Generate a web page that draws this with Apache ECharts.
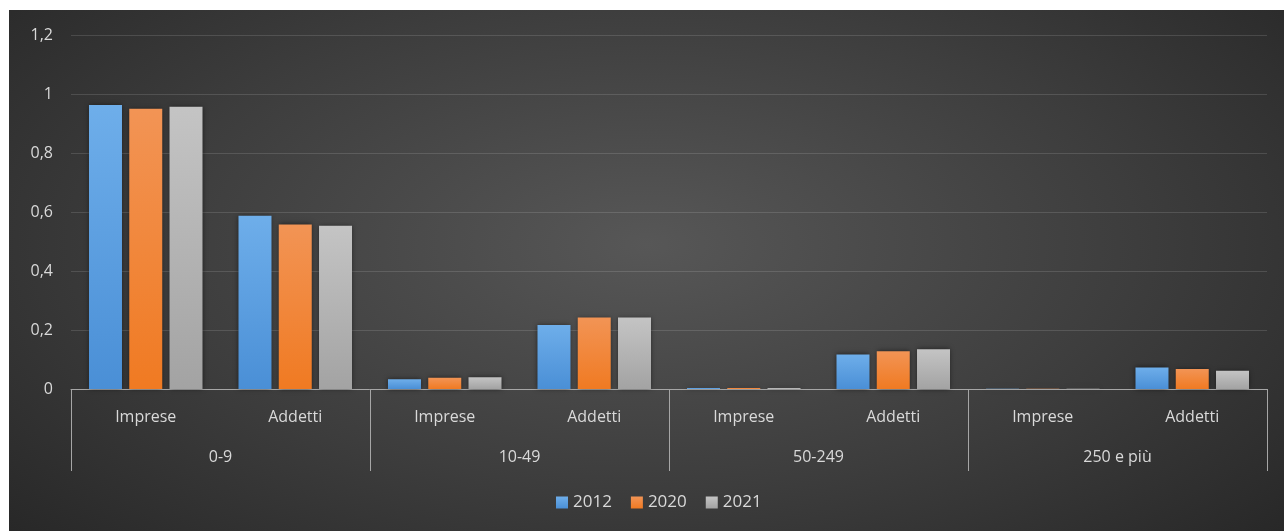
<!DOCTYPE html>
<html>
<head>
<meta charset="utf-8">
<script src="https://cdn.jsdelivr.net/npm/echarts@6/dist/echarts.min.js"></script>
<style>
  html, body { margin: 0; padding: 0; background: #fff; }
  #chart {
    position: absolute; left: 9px; top: 10px; width: 1275px; height: 521px;
    background: radial-gradient(ellipse 70% 85% at 50% 45%, #575757 0%, #3d3d3d 55%, #262626 100%);
  }
</style>
</head>
<body>
<div id="chart"></div>
<script>
// ----------------------
// Dati
// ----------------------
const GROUPS = ['0-9', '10-49', '50-249', '250 e più'];
const SUBCATS = ['Imprese', 'Addetti', 'Imprese', 'Addetti', 'Imprese', 'Addetti', 'Imprese', 'Addetti'];
const YEARS = ['2012', '2020', '2021'];
const S2012 = [0.963, 0.587, 0.033, 0.217, 0.003, 0.117, 0.001, 0.073];
const S2020 = [0.950, 0.558, 0.038, 0.242, 0.003, 0.128, 0.001, 0.068];
const S2021 = [0.957, 0.553, 0.040, 0.242, 0.003, 0.135, 0.001, 0.062];

const COLOR_TEXT = '#d9d9d9';
const COLOR_AXIS = '#a6a6a6';
const FONT = '"Open Sans", "DejaVu Sans", sans-serif';

// gradiente verticale per le barre
function grad(top, bottom) {
  return new echarts.graphic.LinearGradient(0, 0, 0, 1, [
    { offset: 0, color: top },
    { offset: 1, color: bottom }
  ]);
}

function bar(name, data, top, bottom) {
  return {
    name: name,
    type: 'bar',
    xAxisIndex: 0,
    data: data,
    barWidth: 33,
    barGap: '22%',
    itemStyle: {
      color: grad(top, bottom),
      shadowColor: 'rgba(0,0,0,0.55)',
      shadowBlur: 5
    }
  };
}

const chart = echarts.init(document.getElementById('chart'));
chart.setOption({
  backgroundColor: 'transparent',
  animation: false,
  textStyle: { fontFamily: FONT },
  grid: { left: 62, right: 17, top: 25, bottom: 142 },
  legend: {
    bottom: 15,
    left: 542,
    itemWidth: 12,
    itemHeight: 12,
    itemGap: 19,
    icon: 'rect',
    textStyle: { color: COLOR_TEXT, fontSize: 17, fontFamily: FONT },
    data: YEARS
  },
  xAxis: [
    {
      type: 'category',
      data: SUBCATS,
      position: 'bottom',
      axisLine: { show: true, lineStyle: { color: COLOR_AXIS, width: 1 } },
      axisTick: { show: false },
      axisLabel: { color: COLOR_TEXT, fontSize: 16, margin: 20, interval: 0, fontFamily: FONT }
    },
    {
      type: 'category',
      data: GROUPS,
      position: 'bottom',
      axisLine: { show: false },
      axisTick: { show: true, length: 82, interval: 0, lineStyle: { color: COLOR_AXIS, width: 1 } },
      axisLabel: { color: COLOR_TEXT, fontSize: 16, margin: 60, interval: 0, fontFamily: FONT },
      splitLine: { show: false }
    }
  ],
  yAxis: {
    type: 'value',
    min: 0,
    max: 1.2,
    interval: 0.2,
    axisLine: { show: false },
    axisTick: { show: false },
    axisLabel: {
      color: COLOR_TEXT,
      fontSize: 16,
      margin: 18,
      fontFamily: FONT,
      formatter: v => String(Math.round(v * 10) / 10).replace('.', ',')
    },
    splitLine: { lineStyle: { color: 'rgba(255,255,255,0.13)', width: 1 } }
  },
  series: [
    bar(YEARS[0], S2012, '#6eaeea', '#4a8fd6'),
    bar(YEARS[1], S2020, '#f29455', '#f07a22'),
    bar(YEARS[2], S2021, '#c4c4c4', '#a3a3a3')
  ]
});

window.addEventListener('resize', () => chart.resize());
</script>
</body>
</html>
